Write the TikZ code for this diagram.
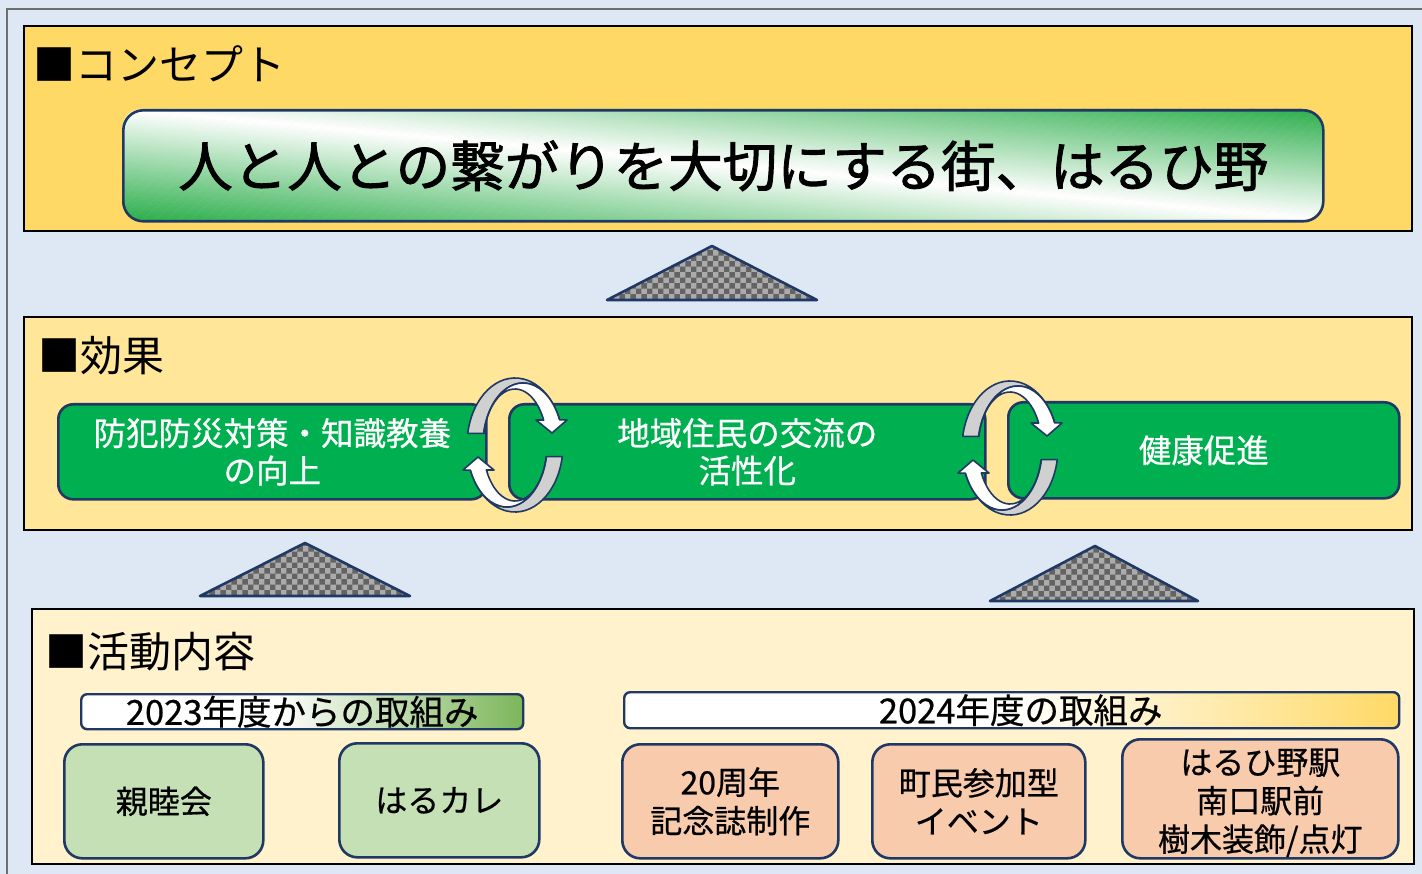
\documentclass[tikz,border=0pt]{standalone}
\usepackage{fontspec}
\newfontfamily\jp{Noto Sans CJK JP}
\newfontfamily\jpm[FakeBold=1.6]{Noto Sans CJK JP}
\newfontfamily\jps[FakeBold=0.6]{Noto Sans CJK JP}
\usetikzlibrary{patterns}
\definecolor{bgblue}{HTML}{DDE8F4}
\definecolor{framegray}{HTML}{6E6E6E}
\definecolor{concept}{HTML}{FFD966}
\definecolor{effect}{HTML}{FFE699}
\definecolor{activity}{HTML}{FFF2CC}
\definecolor{navy}{HTML}{1F3864}
\definecolor{boxgreen}{HTML}{00B050}
\definecolor{slgreen}{HTML}{2BAE4C}
\definecolor{lgreen}{HTML}{C5E0B4}
\definecolor{peach}{HTML}{F8CBAD}
\definecolor{arrgray}{HTML}{D0D0D0}
\definecolor{trigray}{HTML}{ABABAB}
\definecolor{tridark}{HTML}{636363}
\definecolor{bargreen}{HTML}{7CB65A}
\definecolor{baryellow}{HTML}{FFD966}
\pgfdeclarehorizontalshading{greenbarsh}{100bp}{color(0bp)=(white); color(47bp)=(white); color(75bp)=(bargreen); color(100bp)=(bargreen)}
\pgfdeclarehorizontalshading{yellowbarsh}{100bp}{color(0bp)=(white); color(50bp)=(white); color(75bp)=(baryellow); color(100bp)=(baryellow)}
\newcommand\halfcyclearrow{%
  \filldraw[fill=arrgray, draw=navy, line width=1.6pt, line join=round]
    (190:48 and 67) arc[start angle=190, end angle=338, x radius=48, y radius=67]
    -- ([shift={(8,0)}]336:40 and 62) arc[start angle=336, end angle=190.8, x radius=40, y radius=62] -- cycle;
  \filldraw[fill=white, draw=navy, line width=1.6pt, line join=round]
    ([shift={(8,0)}]190.8:40 and 62) arc[start angle=190.8, end angle=336, x radius=40, y radius=62]
    -- (52,-25) -- (37,-12) -- (21,-25)
    -- (333.5:32 and 56) arc[start angle=333.5, end angle=192, x radius=32, y radius=56] -- cycle;
}
\begin{document}
\begin{tikzpicture}[x=1pt,y=-1pt,
  panel/.style={draw=black, line width=1.3pt, anchor=north west, inner sep=0pt, outer sep=0pt},
  heading/.style={anchor=west, inner sep=0pt, font=\jp\fontsize{42}{48}\selectfont},
  effbox/.style={draw=navy, line width=2.6pt, fill=boxgreen, rounded corners=15pt, anchor=north west,
    inner sep=0pt, text=white, align=center, font=\jps\fontsize{32.5}{37.5}\selectfont},
  actbox/.style={draw=navy, line width=2.6pt, rounded corners=18pt, anchor=north west,
    inner sep=0pt, align=center, font=\jps\fontsize{32}{38.5}\selectfont},
  barbox/.style={draw=navy, line width=2.4pt, rounded corners=6pt, anchor=north west,
    inner sep=0pt, font=\jps\fontsize{34.5}{36}\selectfont},
  bartext/.style={inner sep=0pt, font=\jps\fontsize{34.5}{36}\selectfont},
  tri/.style={preaction={fill=trigray}, pattern=checkerboard, pattern color=tridark,
    draw=navy, line width=2.6pt, line join=round}]
\useasboundingbox (0,0) rectangle (1422,874);
\fill[bgblue] (0,0) rectangle (1422,874);
\draw[framegray, line width=1.5pt] (7,880) -- (7,9) -- (1430,9);

% panels
\node[panel, fill=concept, minimum width=1388pt, minimum height=205pt] (concept) at (24,26) {};
\node[panel, fill=effect, minimum width=1388pt, minimum height=213pt] (effect) at (24,317) {};
\node[panel, fill=activity, minimum width=1382pt, minimum height=255pt] (activity) at (32,609) {};

% headings
\node[heading] (h1) at (33,64) {■コンセプト};
\node[heading] (h2) at (38,356) {■効果};
\node[heading] (h3) at (45,652) {■活動内容};

% triangles
\filldraw[tri] (712,246) -- (817,300) -- (607,300) -- cycle;
\filldraw[tri] (305,543) -- (410,596) -- (200,596) -- cycle;
\filldraw[tri] (1095,546) -- (1198,601) -- (990,601) -- cycle;

% slogan: diagonal green-white-green gradient
\begin{scope}[shift={(122,109)}]
  \begin{scope}
    \clip[rounded corners=20pt] (0,0) rectangle (1200,111);
    \foreach \i in {0,...,99}{
      \pgfmathsetmacro\ua{-1+\i/50}
      \pgfmathsetmacro\ub{\ua+1/50+0.003}
      \pgfmathsetmacro\pc{min(100,abs(\ua+1/100)*100)}
      \fill[slgreen!\pc!white] ({\ua*1200},0) -- ({\ub*1200},0) -- ({(\ub+1)*1200},111) -- ({(\ua+1)*1200},111) -- cycle;
    }
  \end{scope}
\end{scope}
\node[draw=navy, line width=2.6pt, rounded corners=20pt,
  anchor=north west, minimum width=1200pt, minimum height=111pt, inner sep=0pt,
  font=\jpm\fontsize{54.5}{60}\selectfont] (slogan) at (122,109) {人と人との繋がりを大切にする街、はるひ野};

% effects
\node[effbox, minimum width=428pt, minimum height=95pt] (effA) at (57,403) {防犯防災対策・知識教養\\の向上};
\node[effbox, minimum width=476pt, minimum height=95pt] (effB) at (508,403) {地域住民の交流の\\活性化};
\node[effbox, minimum width=391pt, minimum height=96pt] (effC) at (1007,401) {健康促進};

% cycle arrows
\begin{scope}[shift={(515,445)}]
  \halfcyclearrow
  \begin{scope}[rotate=180]\halfcyclearrow\end{scope}
\end{scope}
\begin{scope}[shift={(1010,448)}]
  \halfcyclearrow
  \begin{scope}[rotate=180]\halfcyclearrow\end{scope}
\end{scope}

% activity bars
\node[barbox, shading=greenbarsh, minimum width=442pt, minimum height=35pt] (bar1) at (80,693) {2023年度からの取組み};
\node[barbox, shading=yellowbarsh, minimum width=775pt, minimum height=36pt] (bar2) at (623,691) {};
\node[bartext] (bar2t) at ([shift={(9,0)}]bar2.center) {2024年度の取組み};

% activity boxes
\node[actbox, fill=lgreen, minimum width=199pt, minimum height=114pt] (k1) at (63,743) {親睦会};
\node[actbox, fill=lgreen, minimum width=200pt, minimum height=114pt] (k2) at (338,742) {はるカレ};
\node[actbox, fill=peach, minimum width=216pt, minimum height=114pt] (k3) at (621,743) {20周年\\記念誌制作};
\node[actbox, fill=peach, minimum width=213pt, minimum height=114pt] (k4) at (871,743) {町民参加型\\イベント};
\node[actbox, fill=peach, minimum width=276pt, minimum height=119pt] (k5) at (1121,738) {};
\node[align=center, inner sep=0pt, font=\jps\fontsize{32}{38.5}\selectfont] (k5t) at ([shift={(0,4)}]k5.center) {はるひ野駅\\南口駅前\\樹木装飾/点灯};
\end{tikzpicture}
\end{document}
